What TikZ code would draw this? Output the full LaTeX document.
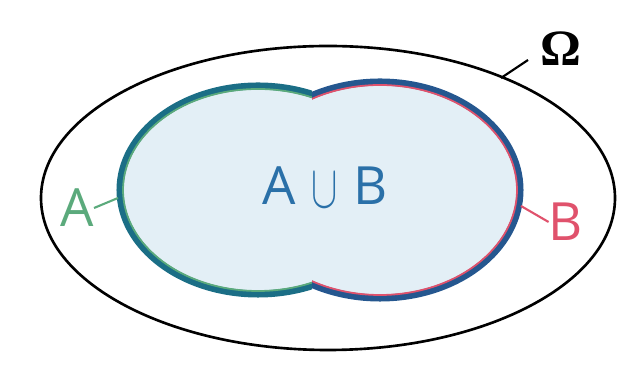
\documentclass[tikz,border=0pt]{standalone}
\usepackage{fontspec}
\setmainfont{Open Sans}
\newfontfamily\omegafont{Liberation Serif}
\usetikzlibrary{positioning}
\definecolor{fillblue}{HTML}{E3EFF6}
\definecolor{rimA}{HTML}{1B6E86}
\definecolor{rimB}{HTML}{25578F}
\definecolor{setA}{HTML}{5BAA7C}
\definecolor{setB}{HTML}{E0526C}
\definecolor{txtblue}{HTML}{2A70A8}
\newcommand{\tallcup}{\raisebox{-0.06em}{\scalebox{0.9}[1.4]{$\cup$}}}
\tikzset{
  setlabel/.style={font=\fontsize{30}{30}\selectfont, inner sep=0pt},
  tick/.style={line width=1.2pt},
  rim/.style={line width=4pt},
  lining/.style={line width=1pt},
}

\begin{document}
\begin{tikzpicture}[x=0.02cm,y=-0.02cm]
    \useasboundingbox (0,0) rectangle (626,367);

    % Omega
    \draw[line width=1.5pt] (328,198) ellipse [x radius=287, y radius=152];

    % A u B
    \fill[fillblue] (258,190) ellipse [x radius=138, y radius=104];
    \fill[fillblue] (380,190) ellipse [x radius=140, y radius=108];
    \begin{scope}
      \clip (0,0) rectangle (312,367);
      \draw[rim,rimA] (258,190) ellipse [x radius=138, y radius=104];
      \draw[lining,setA] (258,190) ellipse [x radius=135, y radius=101];
    \end{scope}
    \begin{scope}
      \clip (312,0) rectangle (626,367);
      \draw[rim,rimB] (380,190) ellipse [x radius=140, y radius=108];
      \draw[lining,setB] (380,190) ellipse [x radius=137, y radius=105];
    \end{scope}

    \node[setlabel, text=txtblue] (union) at (325,187) {A\hspace{0.3em}\tallcup\hspace{0.3em}B};

    % labels
    \node[setlabel, text=setA] (labA) at (77,208) {A};
    \node[setlabel, text=setB] (labB) at (566,222) {B};
    \node[font=\omegafont\bfseries\fontsize{29}{29}\selectfont, inner sep=0pt] (omega) at (561,49) {Ω};

    \coordinate (edgeA) at (118,198);
    \coordinate (edgeB) at (521,206);
    \coordinate (edgeO) at (501,78);
    \coordinate (tipO) at (528,60);

    \draw[tick,setA] (labA.east) -- (edgeA);
    \draw[tick,setB] (labB.west) -- (edgeB);
    \draw[tick] (edgeO) -- (tipO);
\end{tikzpicture}
\end{document}
